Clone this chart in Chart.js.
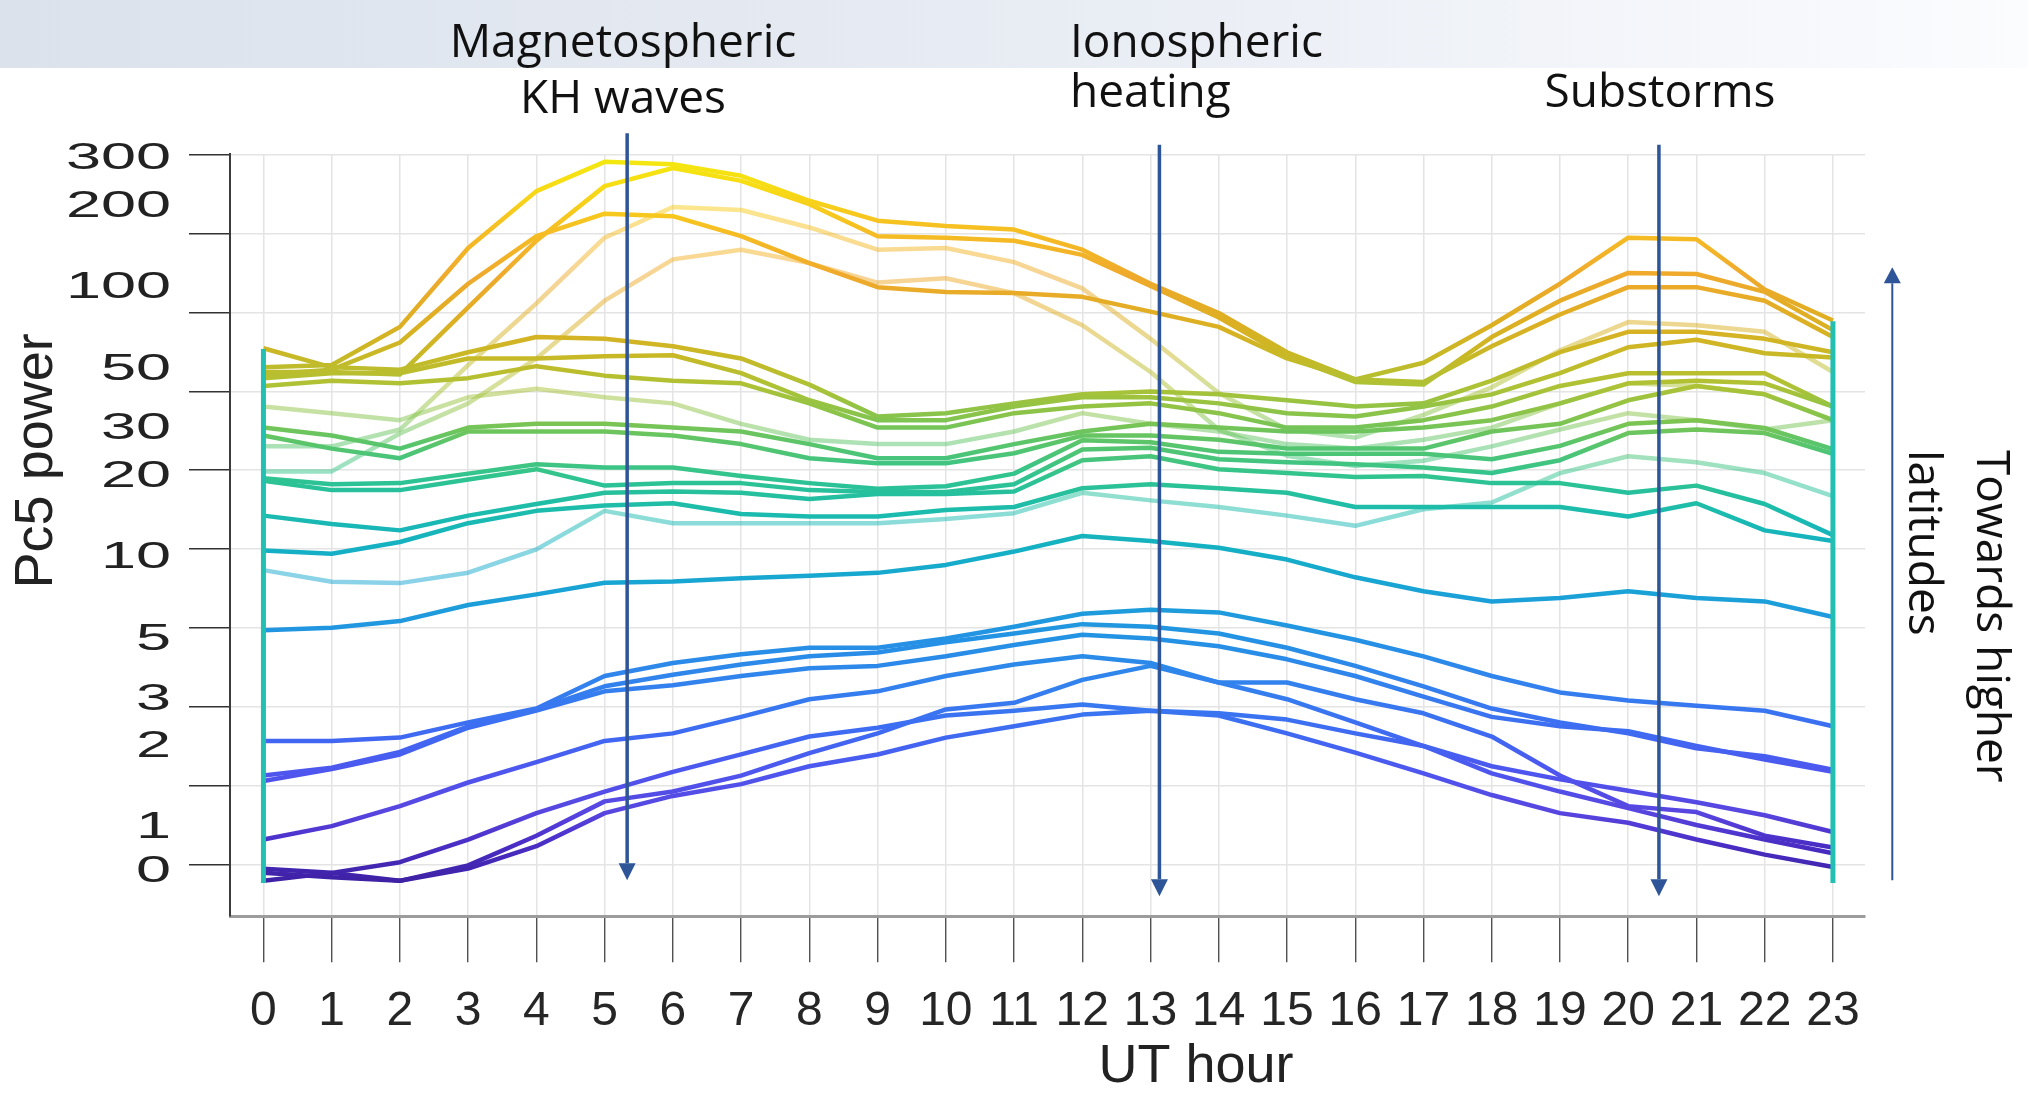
<!DOCTYPE html>
<html>
<head>
<meta charset="utf-8">
<title>Pc5 power by UT hour</title>
<script src="https://cdn.jsdelivr.net/npm/chart.js@4.4.1/dist/chart.umd.min.js"></script>
<style>
  html, body { margin: 0; padding: 0; background: #fff; }
  #wrap { width: 2028px; height: 1093px; }
</style>
</head>
<body>
<div id="wrap"><canvas id="pc5Chart" width="2028" height="1093"></canvas></div>
<script>
// UT hours on the x axis
const hours = [0, 1, 2, 3, 4, 5, 6, 7, 8, 9, 10, 11, 12, 13, 14, 15, 16, 17, 18, 19, 20, 21, 22, 23];

// one trace per station, highest latitude first
const trace01 = [51, 52, 72, 141, 229, 294, 288, 261, 211, 178, 170, 165, 139, 104, 81, 58, 46, 53, 73, 104, 154, 152, 99, 76];
const trace02 = [49, 49, 48, 85, 150, 239, 279, 250, 205, 156, 154, 150, 133, 102, 78, 56, 45, 44, 66, 90, 114, 113, 97, 70];
const trace03 = [48, 50, 63, 104, 156, 189, 185, 156, 124, 101, 97, 96, 93, 82, 72, 55, 46, 45, 61, 80, 101, 101, 90, 66];
const trace04 = [26, 26, 30, 52, 88, 154, 200, 195, 168, 139, 141, 125, 100, 65, 41, 30, 28, 34, 43, 59, 75, 73, 69, 49];
const trace05 = [21, 21, 29, 37.5, 55, 90, 128, 139, 124, 105, 109, 96, 73, 49, 30, 24, 22, 23, 26, 30, 34.5, 32.5, 30, 32.5];
const trace06 = [60, 51, 50, 58, 66, 65, 61, 55, 44, 33.5, 34.5, 37.5, 40.5, 41.5, 40.5, 38.5, 36.5, 37.5, 45.5, 58, 69, 69, 65, 58];
const trace07 = [46.5, 48.5, 48.5, 55, 55, 56, 56.5, 48.5, 38.5, 32.5, 32.5, 36.5, 39.5, 39.5, 37.5, 34.5, 33.5, 36.5, 40.5, 48.5, 60.5, 64.5, 57.5, 55.5];
const trace08 = [43.5, 45.5, 44.5, 46.5, 51.5, 47.5, 45.5, 44.5, 37.5, 30.5, 30.5, 34.5, 36.5, 37.5, 34.5, 30.5, 30.5, 32.5, 36.5, 43.5, 48.5, 48.5, 48.5, 36.5];
const trace09 = [36.5, 34.5, 32.5, 39.5, 42.5, 39.5, 37.5, 31.5, 27.5, 26.5, 26.5, 29.5, 34.5, 31.5, 29.5, 26.5, 25.5, 27.5, 30.5, 37.5, 44.5, 43.5, 40.5, 32.5];
const trace10 = [30.5, 28.5, 25.5, 30.5, 31.5, 31.5, 30.5, 29.5, 26.5, 23.5, 23.5, 26.5, 29.5, 31.5, 30.5, 29.5, 29.5, 30.5, 32.5, 37.5, 44.5, 45.5, 44.5, 36.5];
const trace11 = [28.5, 25.5, 23.5, 29.5, 29.5, 29.5, 28.5, 26.5, 23.5, 22.5, 22.5, 24.5, 28.5, 28.5, 27.5, 25.5, 25.5, 25.5, 29.5, 31.5, 38.5, 43.5, 40.5, 32.5];
const trace12 = [19.8, 18.8, 19, 20.6, 22.3, 21.7, 21.7, 20.2, 19, 18.1, 18.5, 20.6, 27.4, 26.9, 24.8, 24.4, 24.4, 24.4, 23.3, 26.1, 31.5, 32.5, 30.4, 25.4];
const trace13 = [19.4, 17.9, 17.9, 19.6, 21.4, 18.6, 19, 19, 17.9, 17.6, 17.6, 18.8, 25.3, 25.7, 23.3, 22.7, 22.3, 21.7, 20.7, 23.1, 29.1, 30, 29.1, 24.4];
const trace14 = [14.4, 13.4, 12.7, 14.4, 15.9, 17.5, 17.7, 17.5, 16.6, 17.3, 17.3, 17.7, 23.1, 23.9, 21.4, 20.7, 20, 20.2, 19, 19, 17.5, 18.6, 15.9, 12.2];
const trace15 = [10.7, 10.4, 11.5, 13.5, 15, 15.7, 16, 14.6, 14.3, 14.3, 15.1, 15.5, 18.2, 18.8, 18.2, 17.5, 15.5, 15.5, 15.5, 15.5, 14.3, 16, 12.7, 11.6];
const trace16 = [9.05, 8.2, 8.1, 8.85, 10.8, 15, 13.5, 13.5, 13.5, 13.5, 14, 14.7, 17.5, 16.4, 15.5, 14.4, 13.2, 15.2, 16.1, 20.7, 23.9, 22.7, 20.7, 17];
const trace17 = [5.42, 5.54, 5.86, 6.72, 7.36, 8.12, 8.22, 8.44, 8.62, 8.84, 9.46, 10.6, 12.1, 11.6, 10.95, 9.9, 8.51, 7.56, 6.93, 7.14, 7.56, 7.14, 6.93, 6.07];
const trace18 = [2.11, 2.11, 2.17, 2.47, 2.78, 3.67, 4.1, 4.42, 4.67, 4.67, 5.05, 5.58, 6.24, 6.45, 6.31, 5.64, 5, 4.34, 3.67, 3.19, 2.98, 2.85, 2.73, 2.39];
const trace19 = [1.57, 1.68, 1.92, 2.39, 2.76, 3.36, 3.71, 4.05, 4.34, 4.48, 4.89, 5.27, 5.71, 5.58, 5.27, 4.67, 4, 3.36, 2.78, 2.47, 2.25, 1.98, 1.85, 1.65];
const trace20 = [1.5, 1.66, 1.88, 2.36, 2.73, 3.22, 3.39, 3.67, 3.92, 4, 4.34, 4.78, 5.22, 5.05, 4.73, 4.23, 3.67, 3.08, 2.59, 2.39, 2.29, 2.02, 1.8, 1.62];
const trace21 = [0.91, 1.02, 1.21, 1.48, 1.76, 2.11, 2.25, 2.59, 3.01, 3.22, 3.67, 4.05, 4.34, 4.1, 3.47, 3.01, 2.47, 2.02, 1.7, 1.52, 1.38, 1.25, 1.12, 0.97];
const trace22 = [0.685, 0.66, 0.64, 0.73, 0.94, 1.26, 1.37, 1.57, 1.9, 2.25, 2.76, 2.92, 3.55, 4, 3.47, 3.47, 3.01, 2.67, 2.19, 1.57, 1.21, 1.15, 0.94, 0.85];
const trace23 = [0.71, 0.685, 0.75, 0.91, 1.14, 1.37, 1.62, 1.88, 2.19, 2.36, 2.62, 2.73, 2.88, 2.73, 2.67, 2.53, 2.25, 2.02, 1.6, 1.37, 1.19, 1.03, 0.91, 0.81];
const trace24 = [0.64, 0.685, 0.64, 0.71, 0.86, 1.14, 1.32, 1.46, 1.7, 1.88, 2.17, 2.39, 2.64, 2.73, 2.62, 2.25, 1.91, 1.6, 1.33, 1.14, 1.05, 0.91, 0.8, 0.72];

const traces = [trace01, trace02, trace03, trace04, trace05, trace06, trace07, trace08,
  trace09, trace10, trace11, trace12, trace13, trace14, trace15, trace16,
  trace17, trace18, trace19, trace20, trace21, trace22, trace23, trace24];
// traces drawn faded, behind the others
const paleTraces = [trace04, trace05, trace09, trace16];

// closing edges of the mesh at the first and last hour
const edgeHours = [0, 23];
const edgeLow = [0.628, 0.628];
const edgeHigh = [59.6, 75.6];

// power axis: evenly spaced grid, printed labels at their values ("0" marks the floor)
const yMin = 0.4734, yMax = 314.3;
const gridValues = [0.737, 1.443, 2.827, 5.536, 10.84, 21.23, 41.57, 81.41, 159.4, 312.2];
const labelValues = [300, 200, 100, 50, 30, 20, 10, 5, 3, 2, 1, 0.688];
const labelTexts = ['300', '200', '100', '50', '30', '20', '10', '5', '3', '2', '1', '0'];

// event markers (hour, top of shaft, arrow tip) in data units
const arrowHours = [5.33, 13.13, 20.45];
const arrowTop = [375, 340, 340];
const arrowTip = [0.643, 0.561, 0.561];
const riseHour = 23.87, riseFrom = 0.643, riseTo = 119.7;

// parula-like colour map along power
const colorStops = [
  [0.59, '#3b1e9c'], [0.88, '#4a2ec6'], [1.16, '#5846e0'], [1.61, '#4e55ee'],
  [2.28, '#3e6bf2'], [3.37, '#3381ee'], [5.0, '#2492e4'], [7.67, '#19a3d5'],
  [10.84, '#14b0c4'], [15.1, '#1cbcac'], [20.2, '#31c48f'], [26.4, '#58c56c'],
  [33.5, '#86c44c'], [43.6, '#aec235'], [56.7, '#c9b826'], [76.4, '#deaf22'],
  [111, '#efa92c'], [169.5, '#f6c022'], [236, '#f7db15'], [312.5, '#f3ea0f']
];

const AXIS_FONT = '"Liberation Sans", Arial, Helvetica, sans-serif';
const NOTE_FONT = '"Open Sans", "Noto Sans", sans-serif';
// axis titles sit off-centre; leading en spaces push them along the axis
const EN_SPACE = '\u2002';

function hexToRgba(hex, a) {
  const n = parseInt(hex.slice(1), 16);
  return `rgba(${(n >> 16) & 255}, ${(n >> 8) & 255}, ${n & 255}, ${a})`;
}

function powerGradient(chart, alpha) {
  const {ctx, chartArea, scales} = chart;
  if (!chartArea || !scales.y) return hexToRgba('#1cbcac', alpha);
  const span = chartArea.bottom - chartArea.top;
  const g = ctx.createLinearGradient(0, chartArea.bottom, 0, chartArea.top);
  colorStops.forEach(([v, c]) => {
    const p = (chartArea.bottom - scales.y.getPixelForValue(v)) / span;
    g.addColorStop(Math.min(1, Math.max(0, p)), hexToRgba(c, alpha));
  });
  return g;
}

const datasets = traces.map(values => {
  const pale = paleTraces.includes(values);
  return {
    data: hours.map((h, k) => ({x: h, y: values[k]})),
    borderColor: ctx => powerGradient(ctx.chart, pale ? 0.5 : 1),
    borderWidth: 4.5,
    pointRadius: 0,
    tension: 0,
    borderJoinStyle: 'round',
    order: pale ? 2 : 1
  };
});

edgeHours.forEach((h, i) => {
  datasets.push({
    data: [{x: h, y: edgeLow[i]}, {x: h, y: edgeHigh[i]}],
    borderColor: '#22bfb2',
    borderWidth: 5,
    pointRadius: 0,
    order: 0
  });
});

function drawArrow(ctx, x, y0, y1, headW, headH) {
  const dir = Math.sign(y1 - y0);
  ctx.beginPath();
  ctx.moveTo(x, y0);
  ctx.lineTo(x, y1 - dir * headH);
  ctx.stroke();
  ctx.beginPath();
  ctx.moveTo(x, y1);
  ctx.lineTo(x - headW / 2, y1 - dir * headH);
  ctx.lineTo(x + headW / 2, y1 - dir * headH);
  ctx.closePath();
  ctx.fill();
}

const backdrop = {
  id: 'backdrop',
  beforeDraw(chart) {
    const {ctx, width, height} = chart;
    ctx.save();
    ctx.fillStyle = '#ffffff';
    ctx.fillRect(0, 0, width, height);
    const band = ctx.createLinearGradient(0, 0, width, 0);
    band.addColorStop(0, '#dbe2ec');
    band.addColorStop(0.55, '#e9edf4');
    band.addColorStop(1, '#fbfcfe');
    ctx.fillStyle = band;
    ctx.fillRect(0, 0, width, 68);
    ctx.restore();
  }
};

// wide printed tick labels on the power axis
const powerLabels = {
  id: 'powerLabels',
  afterDraw(chart) {
    const {ctx, scales: {y}} = chart;
    ctx.save();
    ctx.font = `36px ${AXIS_FONT}`;
    ctx.fillStyle = '#222';
    ctx.textAlign = 'right';
    ctx.textBaseline = 'middle';
    labelValues.forEach((v, i) => {
      ctx.save();
      ctx.translate(y.right - 59, y.getPixelForValue(v));
      ctx.scale(1.75, 1);
      ctx.fillText(labelTexts[i], 0, 0);
      ctx.restore();
    });
    ctx.restore();
  }
};

const notes = {
  id: 'notes',
  afterDraw(chart) {
    const {ctx, scales: {x, y}} = chart;
    ctx.save();
    ctx.strokeStyle = '#2e5597';
    ctx.fillStyle = '#2e5597';
    ctx.lineWidth = 3.5;
    arrowHours.forEach((h, i) => {
      drawArrow(ctx, x.getPixelForValue(h), y.getPixelForValue(arrowTop[i]), y.getPixelForValue(arrowTip[i]), 17, 17);
    });
    ctx.lineWidth = 2;
    drawArrow(ctx, x.getPixelForValue(riseHour), y.getPixelForValue(riseFrom), y.getPixelForValue(riseTo), 17, 16);

    ctx.fillStyle = '#111';
    ctx.font = `46px ${NOTE_FONT}`;
    ctx.textBaseline = 'alphabetic';
    ctx.textAlign = 'center';
    ctx.fillText('Magnetospheric', 623, 57);
    ctx.fillText('KH waves', 623, 113);
    ctx.fillText('Substorms', 1660, 107);
    ctx.textAlign = 'left';
    ctx.fillText('Ionospheric', 1070, 57);
    ctx.fillText('heating', 1070, 107);

    ctx.save();
    ctx.translate(1977, 450);
    ctx.rotate(Math.PI / 2);
    ctx.fillText('Towards higher', 0, 0);
    ctx.fillText('latitudes', 0, 68);
    ctx.restore();
    ctx.restore();
  }
};

new Chart(document.getElementById('pc5Chart'), {
  type: 'line',
  data: {datasets},
  options: {
    responsive: false,
    animation: false,
    devicePixelRatio: 1,
    layout: {padding: {left: 10, right: 163, top: 154, bottom: 0}},
    plugins: {legend: {display: false}, tooltip: {enabled: false}},
    scales: {
      x: {
        type: 'linear',
        min: -0.49,
        max: 23.47,
        afterBuildTicks: scale => { scale.ticks = hours.map(h => ({value: h})); },
        ticks: {
          autoSkip: false,
          maxRotation: 0,
          padding: 26,
          color: '#262626',
          font: {family: AXIS_FONT, size: 48, lineHeight: 1},
          callback: v => String(v)
        },
        grid: {color: '#e4e4e4', lineWidth: 1.5, tickLength: 46, tickColor: '#333', tickWidth: 1.2},
        border: {color: '#9c9c9c', width: 3},
        title: {display: true, text: EN_SPACE.repeat(11) + 'UT hour', color: '#222', padding: {top: 0, bottom: 20},
          font: {family: AXIS_FONT, size: 54, lineHeight: 0.2}}
      },
      y: {
        type: 'logarithmic',
        min: yMin,
        max: yMax,
        afterBuildTicks: scale => { scale.ticks = gridValues.map(v => ({value: v})); },
        ticks: {display: false},
        grid: {color: '#e4e4e4', lineWidth: 1.5, tickLength: 41, tickColor: '#333', tickWidth: 1.5},
        border: {color: '#3c3c3c', width: 2},
        title: {display: true, text: EN_SPACE.repeat(5) + '\u2005' + 'Pc5 power', color: '#222', padding: {top: 0, bottom: 125},
          font: {family: AXIS_FONT, size: 54, lineHeight: 1}}
      }
    }
  },
  plugins: [backdrop, powerLabels, notes]
});
</script>
</body>
</html>
